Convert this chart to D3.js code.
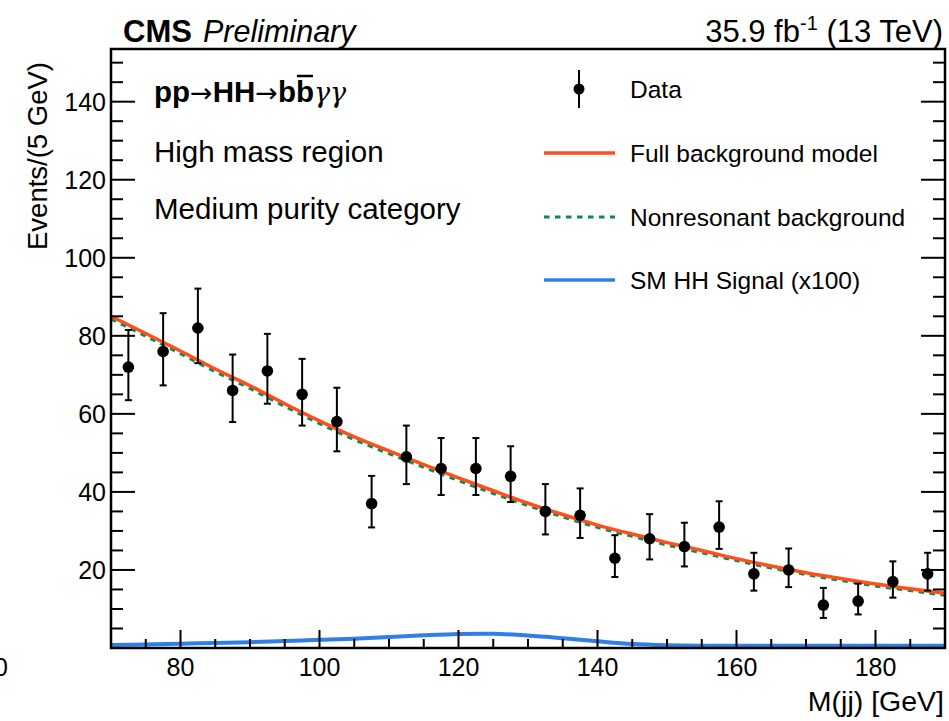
<!DOCTYPE html>
<html>
<head>
<meta charset="utf-8">
<script src="https://cdn.jsdelivr.net/npm/d3@7"></script>
<style>
  body { margin: 0; background: #fff; }
  text { font-family: "Liberation Sans", Arial, Helvetica, sans-serif; fill: #000; }
</style>
</head>
<body>
<svg id="chart" width="949" height="721"></svg>
<script>
// data points (bin centres, 5 GeV bins)
var massBins = [72.5, 77.5, 82.5, 87.5, 92.5, 97.5, 102.5, 107.5, 112.5, 117.5, 122.5, 127.5,
                132.5, 137.5, 142.5, 147.5, 152.5, 157.5, 162.5, 167.5, 172.5, 177.5, 182.5, 187.5];
var events = [72, 76, 82, 66, 71, 65, 58, 37, 49, 46, 46, 44, 35, 34, 23, 28, 26, 31, 19, 20, 11, 12, 17, 19];
var errLow = [8.5, 8.7, 9.0, 8.1, 8.4, 8.0, 7.6, 6.1, 7.0, 6.8, 6.8, 6.6, 5.9, 5.8, 4.8, 5.3, 5.1, 5.6, 4.3, 4.4, 3.3, 3.4, 4.1, 4.3];
var errHigh = [9.5, 9.8, 10.1, 9.2, 9.5, 9.1, 8.7, 7.1, 8.0, 7.8, 7.8, 7.7, 7.0, 6.9, 5.9, 6.3, 6.1, 6.6, 5.4, 5.5, 4.4, 4.5, 5.2, 5.4];

// model curves sampled every 5 GeV
var curveMass = [70, 75, 80, 85, 90, 95, 100, 105, 110, 115, 120, 125, 130, 135, 140, 145, 150, 155, 160, 165, 170, 175, 180, 185, 190];
var fullBkg = [85.0, 80.6, 76.1, 71.5, 67.2, 62.6, 58.2, 54.1, 50.5, 47.0, 43.6, 40.3, 37.1, 34.2, 31.5, 29.2, 27.0, 25.0, 22.9, 21.0, 19.3, 17.8, 16.4, 15.2, 14.0];
var nonresBkg = [84.3, 79.9, 75.4, 70.8, 66.5, 61.9, 57.5, 53.4, 49.8, 46.3, 42.9, 39.6, 36.5, 33.6, 30.9, 28.6, 26.4, 24.4, 22.4, 20.5, 18.8, 17.3, 15.9, 14.7, 13.5];
var signal = [0.8, 0.9, 1.1, 1.3, 1.5, 1.8, 2.1, 2.4, 2.8, 3.25, 3.6, 3.65, 3.2, 2.5, 1.7, 1.0, 0.7, 0.6, 0.6, 0.6, 0.6, 0.6, 0.6, 0.6, 0.6];

var xTicks = [80, 100, 120, 140, 160, 180];
var yTicks = [20, 40, 60, 80, 100, 120, 140];

var legendLabels = ["Data", "Full background model", "Nonresonant background", "SM HH Signal (x100)"];

var svg = d3.select("#chart");
var pLeft = 111, pRight = 945, pTop = 49, pBottom = 648;

var x = d3.scaleLinear().domain([70, 190]).range([pLeft, pRight]);
var y = d3.scaleLinear().domain([0, 153.5]).range([pBottom, pTop]);

var colFull = "#ff4f1c", colNonres = "#0a8a4c", colSig = "#2f7fe6";

// clip
svg.append("clipPath").attr("id", "clip")
  .append("rect").attr("x", pLeft).attr("y", pTop).attr("width", pRight - pLeft).attr("height", pBottom - pTop);

var plot = svg.append("g").attr("clip-path", "url(#clip)");

var line = function (vals, crv) {
  return d3.line()
    .x(function (d, i) { return x(curveMass[i]) })
    .y(function (d) { return y(d) })
    .curve(crv)(vals);
}

plot.append("path").attr("d", line(nonresBkg, d3.curveMonotoneX))
  .attr("fill", "none").attr("stroke", colNonres).attr("stroke-width", 3).attr("stroke-dasharray", "5.5,5.5");
plot.append("path").attr("d", line(fullBkg, d3.curveMonotoneX))
  .attr("fill", "none").attr("stroke", colFull).attr("stroke-width", 3.5);
plot.append("path").attr("d", line(signal, d3.curveCatmullRom))
  .attr("fill", "none").attr("stroke", colSig).attr("stroke-width", 4);

// data points
var pts = svg.append("g").selectAll("g").data(events).enter().append("g");
pts.append("line")
  .attr("x1", function (d, i) { return x(massBins[i]) })
  .attr("x2", function (d, i) { return x(massBins[i]) })
  .attr("y1", function (d, i) { return y(d - errLow[i]) })
  .attr("y2", function (d, i) { return y(d + errHigh[i]) })
  .attr("stroke", "#000").attr("stroke-width", 2);
[errLow, errHigh].forEach(function (err, k) {
  pts.append("line")
    .attr("x1", function (d, i) { return x(massBins[i]) - 3.5 })
    .attr("x2", function (d, i) { return x(massBins[i]) + 3.5 })
    .attr("y1", function (d, i) { return y(k == 0 ? d - err[i] : d + err[i]) })
    .attr("y2", function (d, i) { return y(k == 0 ? d - err[i] : d + err[i]) })
    .attr("stroke", "#000").attr("stroke-width", 2);
});
pts.append("circle")
  .attr("cx", function (d, i) { return x(massBins[i]) })
  .attr("cy", function (d) { return y(d) })
  .attr("r", 5.8).attr("fill", "#000");

// axes
var xMinor = d3.range(75, 190, 5).filter(function (v) { return xTicks.indexOf(v) < 0 });
var yMinor = d3.range(5, 155, 5).filter(function (v) { return yTicks.indexOf(v) < 0 });

var ax = svg.append("g").attr("stroke", "#000").attr("stroke-width", 2);
xTicks.forEach(function (v) {
  ax.append("line").attr("x1", x(v)).attr("x2", x(v)).attr("y1", pBottom).attr("y2", pBottom - 18);
});
xMinor.forEach(function (v) {
  ax.append("line").attr("x1", x(v)).attr("x2", x(v)).attr("y1", pBottom).attr("y2", pBottom - 9);
});
yTicks.forEach(function (v) {
  ax.append("line").attr("x1", pLeft).attr("x2", pLeft + 24).attr("y1", y(v)).attr("y2", y(v));
  ax.append("line").attr("x1", pRight).attr("x2", pRight - 24).attr("y1", y(v)).attr("y2", y(v));
});
yMinor.forEach(function (v) {
  ax.append("line").attr("x1", pLeft).attr("x2", pLeft + 12).attr("y1", y(v)).attr("y2", y(v));
  ax.append("line").attr("x1", pRight).attr("x2", pRight - 12).attr("y1", y(v)).attr("y2", y(v));
});
svg.append("rect").attr("x", pLeft).attr("y", pTop).attr("width", pRight - pLeft).attr("height", pBottom - pTop)
  .attr("fill", "none").attr("stroke", "#000").attr("stroke-width", 2.5);

svg.append("g").selectAll("text").data(xTicks).enter().append("text")
  .attr("x", function (d) { return x(d) }).attr("y", 676)
  .attr("text-anchor", "middle").attr("font-size", 25).text(function (d) { return d });
svg.append("g").selectAll("text").data(yTicks).enter().append("text")
  .attr("x", 106).attr("y", function (d) { return y(d) + 9 })
  .attr("text-anchor", "end").attr("font-size", 25).text(function (d) { return d });
svg.append("text").attr("x", 8).attr("y", 676).attr("text-anchor", "end").attr("font-size", 25).text("0");

// axis titles
svg.append("text").attr("x", 944).attr("y", 711).attr("text-anchor", "end").attr("font-size", 28.5).text("M(jj) [GeV]");
svg.append("text").attr("transform", "translate(47,62) rotate(-90)")
  .attr("text-anchor", "end").attr("font-size", 27.5).text("Events/(5 GeV)");

// header
svg.append("text").attr("x", 123).attr("y", 42).attr("font-size", 31).attr("font-weight", "bold").text("CMS");
svg.append("text").attr("x", 203).attr("y", 42).attr("font-size", 30.5).attr("font-style", "italic").text("Preliminary");
var lumi = svg.append("text").attr("x", 943).attr("y", 42).attr("text-anchor", "end").attr("font-size", 31);
lumi.append("tspan").text("35.9 fb");
lumi.append("tspan").attr("font-size", 20).attr("dy", -12).text("-1");
lumi.append("tspan").attr("dy", 12).text(" (13 TeV)");

// process labels
var proc = svg.append("text").attr("x", 154).attr("y", 102).attr("font-size", 29.5);
proc.append("tspan").attr("font-weight", "bold").text("pp");
proc.append("tspan").attr("font-family", "DejaVu Sans").attr("font-size", 27).text("\u2192");
proc.append("tspan").attr("font-weight", "bold").text("HH");
proc.append("tspan").attr("font-family", "DejaVu Sans").attr("font-size", 27).text("\u2192");
proc.append("tspan").attr("font-weight", "bold").text("bb");
proc.append("tspan").attr("font-family", "DejaVu Serif").attr("font-style", "italic").attr("font-size", 27).text("\u03b3\u03b3");
var n = proc.node();
var start = n.getStartPositionOfChar(7), end = n.getEndPositionOfChar(7);
svg.append("line").attr("x1", start.x + 1).attr("x2", end.x - 1).attr("y1", 76).attr("y2", 76)
  .attr("stroke", "#000").attr("stroke-width", 2.5);

svg.append("text").attr("x", 154).attr("y", 162).attr("font-size", 29.5).text("High mass region");
svg.append("text").attr("x", 154).attr("y", 219).attr("font-size", 29.5).text("Medium purity category");

// legend
var legY = [89, 153, 217, 280];
var leg = svg.append("g");
leg.append("line").attr("x1", 579).attr("x2", 579).attr("y1", 70).attr("y2", 108).attr("stroke", "#000").attr("stroke-width", 2);
leg.append("circle").attr("cx", 579).attr("cy", legY[0]).attr("r", 5.5).attr("fill", "#000");
leg.append("line").attr("x1", 544).attr("x2", 615).attr("y1", legY[1]).attr("y2", legY[1]).attr("stroke", colFull).attr("stroke-width", 3.5);
leg.append("line").attr("x1", 544).attr("x2", 615).attr("y1", legY[2]).attr("y2", legY[2]).attr("stroke", colNonres).attr("stroke-width", 3).attr("stroke-dasharray", "5.5,5.5");
leg.append("line").attr("x1", 544).attr("x2", 615).attr("y1", legY[3]).attr("y2", legY[3]).attr("stroke", colSig).attr("stroke-width", 3.5);
leg.selectAll("text").data(legendLabels).enter().append("text")
  .attr("x", 630).attr("y", function (d, i) { return legY[i] + 8.5 })
  .attr("font-size", 24.5).text(function (d) { return d });
</script>
</body>
</html>
